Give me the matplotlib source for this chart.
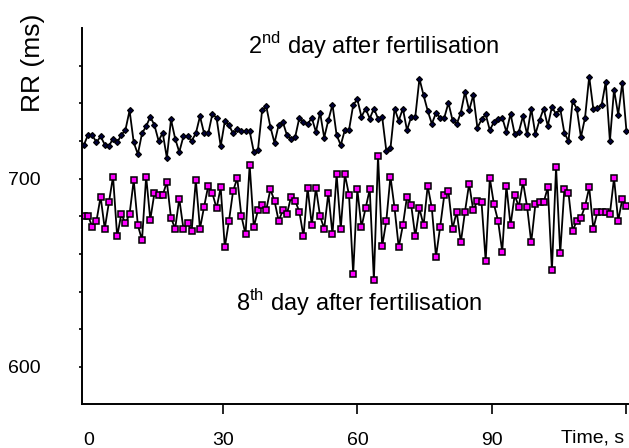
import numpy as np
from matplotlib import pyplot as plt

plt.rcParams['font.family'] = ['Liberation Sans', 'DejaVu Sans']
plt.rcParams['mathtext.fontset'] = 'custom'
plt.rcParams['mathtext.rm'] = 'Liberation Sans'

# RR intervals (ms)
rr_day2 = [718.1, 723.4, 723.1, 719.2, 722.4, 718.1, 717.2, 721.3, 719.2, 723.1,
           725.9, 736.2, 719.2, 713.0, 724.0, 727.8, 732.8, 728.4, 720.1, 724.3,
           711.0, 731.4, 721.3, 714.1, 722.4, 722.4, 720.1, 724.0, 733.1, 724.0,
           724.0, 734.4, 732.3, 717.2, 730.5, 728.4, 724.0, 726.3, 725.2, 725.2,
           725.2, 714.2, 715.1, 736.2, 738.5, 727.5, 719.0, 728.4, 730.1, 723.1,
           721.0, 722.2, 732.3, 730.1, 728.9, 732.3, 724.8, 735.1, 721.8, 731.0,
           739.3, 723.1, 717.8, 725.9, 725.9, 739.0, 742.2, 732.8, 737.2, 731.9,
           737.2, 731.9, 732.8, 714.8, 716.0, 737.2, 730.8, 737.2, 725.7, 732.8,
           732.8, 753.1, 744.3, 736.0, 729.1, 734.9, 732.3, 732.3, 740.2, 731.0,
           728.9, 735.1, 746.0, 736.2, 744.3, 727.0, 731.4, 734.2, 725.7, 730.1,
           731.4, 732.4, 724.8, 734.4, 723.8, 724.8, 733.1, 723.6, 737.2, 723.6,
           731.0, 737.2, 728.0, 738.1, 734.2, 737.2, 724.3, 719.9, 741.3, 737.2,
           722.0, 732.4, 754.2, 736.9, 737.7, 739.0, 751.4, 719.9, 747.3, 734.0,
           751.0, 725.2]

rr_day8 = [680.1, 680.1, 674.3, 677.5, 690.4, 673.4, 687.4, 701.1, 669.3, 681.2,
           676.2, 681.2, 699.2, 675.2, 667.4, 701.1, 678.2, 692.3, 691.2, 691.2,
           698.3, 679.2, 673.4, 689.3, 673.4, 676.2, 672.3, 699.2, 673.4, 685.1,
           696.2, 692.3, 684.2, 695.3, 663.5, 677.5, 693.4, 700.3, 680.1, 670.4,
           707.2, 674.3, 683.1, 686.1, 683.3, 694.3, 688.2, 677.5, 683.1, 681.2,
           690.4, 688.2, 682.4, 669.3, 695.1, 675.2, 695.1, 680.1, 673.4, 692.3,
           670.4, 702.2, 673.4, 702.2, 691.2, 649.5, 694.3, 674.3, 684.2, 694.3,
           646.2, 712.1, 664.0, 677.5, 701.1, 684.2, 663.5, 675.2, 690.4, 686.1,
           669.3, 684.2, 675.2, 696.2, 684.2, 658.5, 674.3, 691.2, 693.2, 673.4,
           682.4, 666.1, 682.4, 697.3, 683.1, 688.2, 687.4, 656.2, 700.3, 686.3,
           677.5, 661.2, 696.2, 675.2, 691.2, 685.1, 698.3, 685.1, 666.1, 686.3,
           687.4, 687.4, 695.3, 651.3, 706.1, 660.3, 694.3, 692.3, 672.3, 677.5,
           679.2, 685.4, 695.3, 673.4, 682.4, 682.4, 682.4, 681.2, 700.3, 677.5,
           689.3, 685.4]

# sample times (s), first beat just before 0, last at 120
t_first = -1.0
t_last = 120.0
t = np.linspace(t_first, t_last, len(rr_day2))

xticks = [0, 30, 60, 90, 120]
xticklabels = ['0', '30', '60', '90', '']
yticks = [600, 620, 640, 660, 680, 700, 720, 740, 760]
yticklabels = ['600', '', '', '', '', '700', '', '', '']

fig = plt.figure(figsize=(6.29, 4.48), dpi=100)
ax = fig.add_axes([0.1304, 0.0971, 0.8677, 0.8404])

ax.plot(t, rr_day2, color='black', lw=1.3, marker='D', ms=3.0,
        mfc='#00003a', mec='black', mew=0.9)
ax.plot(t, rr_day8, color='black', lw=1.3, marker='s', ms=4.0,
        mfc='#ff00ff', mec='black', mew=1.1)

ax.set_xlim(-1.45, 120.3)
ax.set_ylim(580, 780)

for s in ['top', 'right']:
    ax.spines[s].set_visible(False)
for s in ['left', 'bottom']:
    ax.spines[s].set_linewidth(1.4)

ax.set_xticks(xticks)
ax.set_xticklabels(xticklabels)
ax.set_yticks(yticks)
ax.set_yticklabels(yticklabels)
ax.tick_params(axis='x', direction='out', length=7.2, width=1.2, pad=12.5, labelsize=14)
ax.tick_params(axis='y', direction='out', length=2, width=1.2, pad=28, labelsize=14)
ax.xaxis.get_major_ticks()[0].tick1line.set_visible(False)

ax.text(119.4, -0.09, 'Time, s', transform=ax.get_xaxis_transform(),
        ha='right', va='center', fontsize=14)

fig.text(0.053, 0.86, 'RR (ms)', rotation=90, ha='center', va='center', fontsize=19)
fig.text(0.593, 0.8795, r'2$^{\mathrm{nd}}$ day after fertilisation',
         ha='center', va='baseline', fontsize=17)
fig.text(0.5715, 0.306, r'8$^{\mathrm{th}}$ day after fertilisation',
         ha='center', va='baseline', fontsize=17)

plt.savefig('out.png', dpi=100)
